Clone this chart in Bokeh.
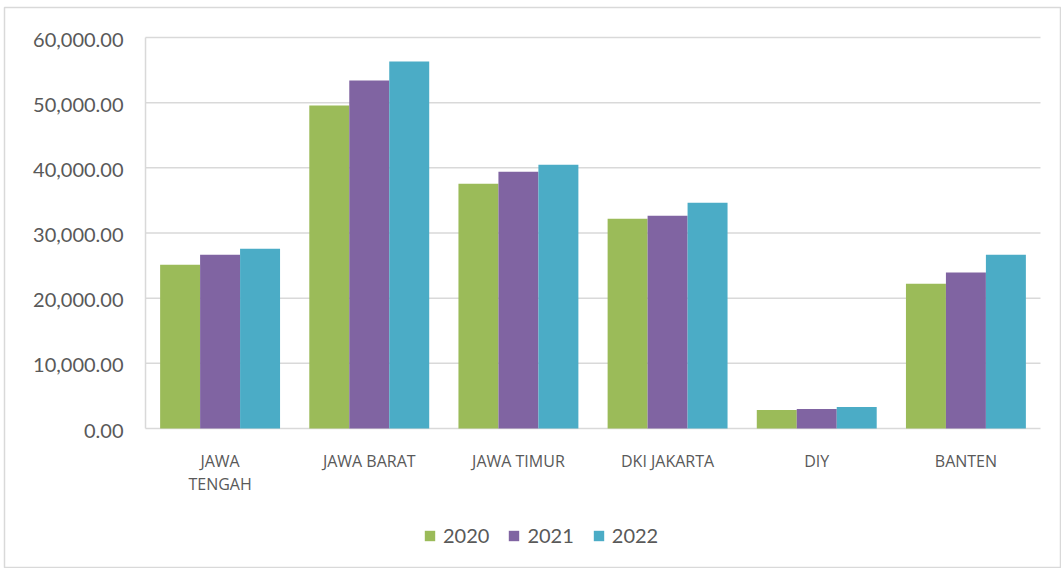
from bokeh.plotting import figure
from bokeh.models import ColumnDataSource, Legend, LegendItem, Range1d
from bokeh.core.properties import value
from bokeh.transform import dodge
from bokeh.embed import file_html
from bokeh.resources import INLINE

categories = ["JAWA TENGAH", "JAWA BARAT", "JAWA TIMUR", "DKI JAKARTA", "DIY", "BANTEN"]
label_line1 = ["JAWA", "JAWA BARAT", "JAWA TIMUR", "DKI JAKARTA", "DIY", "BANTEN"]
label_line2 = ["TENGAH", "", "", "", "", ""]
years = ["2020", "2021", "2022"]
v2020 = [25120, 49560, 37570, 32190, 2840, 22200]
v2021 = [26660, 53400, 39410, 32650, 3000, 23940]
v2022 = [27580, 56320, 40490, 34650, 3300, 26660]
y_ticks = [0, 10000, 20000, 30000, 40000, 50000, 60000]
y_tick_labels = ["0.00", "10,000.00", "20,000.00", "30,000.00", "40,000.00", "50,000.00", "60,000.00"]
colors = ["#9BBB59", "#8064A2", "#4BACC6"]

n = len(categories)
pos = [i + 0.5 for i in range(n)]
src = ColumnDataSource(dict(cat=categories, pos=pos, y2020=v2020, y2021=v2021, y2022=v2022))

# frame covers the whole chart box; data area spans 0..n and 0..60000
p = figure(width=1061, height=568, x_range=Range1d(-0.9453, n + 0.1408),
           y_range=Range1d(-21483, 64604), output_backend="svg", toolbar_location=None,
           x_axis_location=None, y_axis_location=None,
           min_border_left=4, min_border_right=0, min_border_top=7, min_border_bottom=0)
p.outline_line_color = "#d9d9d9"
p.outline_line_width = 1.5
p.background_fill_color = "white"
p.border_fill_color = "white"
p.grid.grid_line_color = None

grid = ColumnDataSource(dict(y=y_ticks, lab=y_tick_labels,
                             x0=[0] * len(y_ticks), x1=[n] * len(y_ticks)))
p.segment(x0="x0", x1="x1", y0="y", y1="y", source=grid, line_color="#d9d9d9", line_width=1.5)
p.segment(x0=[0], x1=[0], y0=[y_ticks[0]], y1=[y_ticks[-1]], line_color="#d9d9d9", line_width=1.5)

w = 0.268
renderers = []
for i, (yr, col) in enumerate(zip(["y2020", "y2021", "y2022"], colors)):
    r = p.vbar(x=dodge("pos", (i - 1) * w), top=yr, width=w, source=src,
               fill_color=col, line_color=None)
    renderers.append(r)

# y tick labels
p.text(x="x0", y="y", text="lab", source=grid, x_offset=-22, y_offset=2,
       text_align="right", text_baseline="middle", text_font=value("Lato"),
       text_font_size="20px", text_color="#595959")

# x category labels (two lines for JAWA TENGAH)
zeros = [0] * n
p.text(x=pos, y=zeros, text=label_line1, y_offset=32, text_align="center", text_baseline="middle",
       text_font=value("Open Sans"), text_font_size="16px", text_color="#595959")
p.text(x=pos, y=zeros, text=label_line2, y_offset=55, text_align="center", text_baseline="middle",
       text_font=value("Open Sans"), text_font_size="16px", text_color="#595959")

legend = Legend(items=[LegendItem(label=y, renderers=[r]) for y, r in zip(years, renderers)],
                orientation="horizontal", location=(419, 21),
                label_text_font="Lato", label_text_font_size="20px", label_text_color="#595959",
                glyph_width=13, glyph_height=13, spacing=18, label_standoff=7,
                padding=0, margin=0, border_line_color=None, background_fill_alpha=0)
p.add_layout(legend)

open("out.html", "w").write(file_html(p, INLINE))
